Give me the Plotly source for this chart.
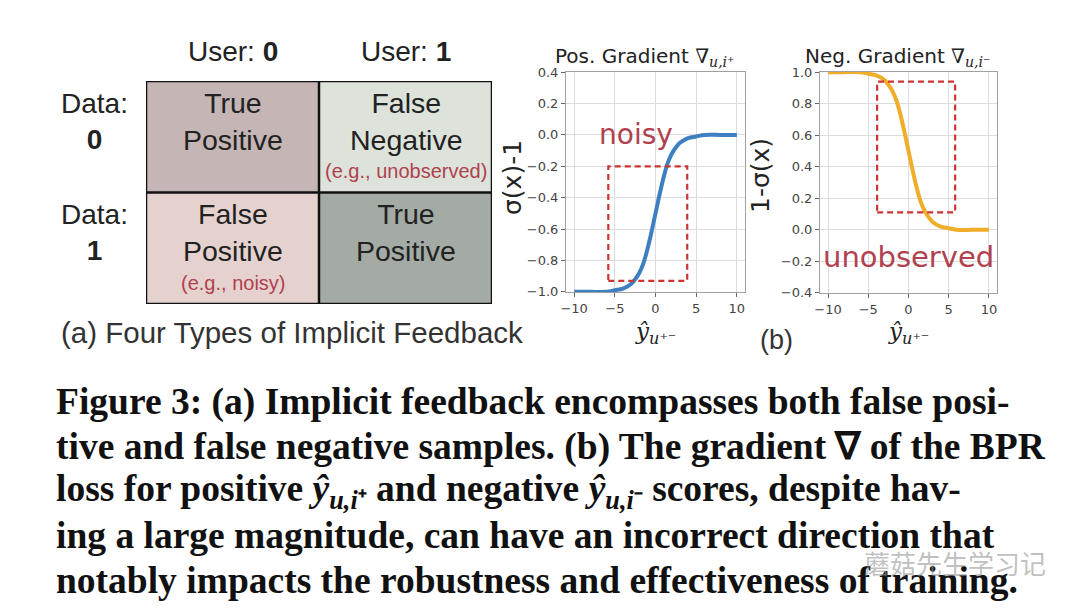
import plotly.graph_objects as go

# page body keeps its default 8px margin, so the figure is sized to fit the 1080x611 window
OFF = 8
W, H = 1080 - 2 * OFF, 611 - 2 * OFF

# ---------------- data ----------------
# (a) confusion-style table
row_labels = ["0", "1"]          # Data
col_labels = ["0", "1"]          # User
cell_main = [["True<br>Positive", "False<br>Negative"],
             ["False<br>Positive", "True<br>Positive"]]
cell_sub = [["", "(e.g., unobserved)"],
            ["(e.g., noisy)", ""]]
cell_colors = ["#c5b5b5", "#dde3db", "#e5d2cf", "#a4aba5"]

# (b) gradient curves
x_vals = [-10, -8, -6, -5, -4, -3, -2.5, -2, -1.5, -1, -0.5, 0, 0.5, 1, 1.5, 2, 2.5, 3, 4, 5, 6, 8, 10]
pos_grad = [-1.0, -1.0, -1.0, -0.99, -0.98, -0.95, -0.92, -0.88, -0.82, -0.73, -0.62, -0.5,
            -0.38, -0.27, -0.18, -0.12, -0.08, -0.05, -0.02, -0.01, 0.0, 0.0, 0.0]
neg_grad = [1.0, 1.0, 1.0, 0.99, 0.98, 0.95, 0.92, 0.88, 0.82, 0.73, 0.62, 0.5,
            0.38, 0.27, 0.18, 0.12, 0.08, 0.05, 0.02, 0.01, 0.0, 0.0, 0.0]
pos_box = [-5.8, 3.9, -0.93, -0.2]   # x0, x1, y0, y1
neg_box = [-3.9, 5.8, 0.11, 0.94]
x_ticks = [-10, -5, 0, 5, 10]
pos_yticks = [-1.0, -0.8, -0.6, -0.4, -0.2, 0.0, 0.2, 0.4]
neg_yticks = [-0.4, -0.2, 0.0, 0.2, 0.4, 0.6, 0.8, 1.0]

caption_lines = [
    "Figure 3: (a) Implicit feedback encompasses both false posi-",
    "tive and false negative samples. (b) The gradient ∇ of the BPR",
    "loss for positive <i>ŷ</i><sub><i>u,i</i>⁺</sub> and negative <i>ŷ</i><sub><i>u,i</i>⁻</sub> scores, despite hav-",
    "ing a large magnitude, can have an incorrect direction that",
    "notably impacts the robustness and effectiveness of training.",
]

# ---------------- helpers ----------------
def px(x):
    return (x - OFF) / W

def py(y):
    return 1 - (y - OFF) / H

RED_TXT = "#b0414f"
SANS = "Liberation Sans, Arial, sans-serif"
MPL = "DejaVu Sans, sans-serif"
SERIF = "DejaVu Serif, serif"

ann = []

def text(x, y, t, size, family=SANS, color="#222", xref="paper", yref="paper", xanchor="center",
         yanchor="middle", angle=0):
    ann.append(dict(xref=xref, yref=yref, x=x, y=y, text=t, showarrow=False, xanchor=xanchor,
                    yanchor=yanchor, textangle=angle, font=dict(family=family, size=size, color=color)))

fig = go.Figure()

# table as heatmap
n = len(cell_colors)
cs = []
for k, c in enumerate(cell_colors):
    cs.append([k / n, c])
    cs.append([(k + 1) / n, c])
fig.add_trace(go.Heatmap(
    z=[[0, 1], [2, 3]], x=[0, 1], y=[0, 1], zmin=-0.5, zmax=3.5,
    colorscale=cs, showscale=False, hoverinfo="skip",
    xaxis="x3", yaxis="y3"))

# curves
fig.add_trace(go.Scatter(x=x_vals, y=pos_grad, mode="lines", line=dict(color="#3d7fc0", width=4, shape="spline"),
                         xaxis="x", yaxis="y", hoverinfo="skip", showlegend=False))
fig.add_trace(go.Scatter(x=x_vals, y=neg_grad, mode="lines", line=dict(color="#f0ad2a", width=4, shape="spline"),
                         xaxis="x2", yaxis="y2", hoverinfo="skip", showlegend=False))

shapes = []
# table borders
shapes.append(dict(type="rect", xref="x3", yref="y3", x0=-0.5, x1=1.5, y0=-0.5, y1=1.5,
                   line=dict(color="#111", width=2.5)))
shapes.append(dict(type="line", xref="x3", yref="y3", x0=0.5, x1=0.5, y0=-0.5, y1=1.5,
                   line=dict(color="#111", width=2.5)))
shapes.append(dict(type="line", xref="x3", yref="y3", x0=-0.5, x1=1.5, y0=0.5, y1=0.5,
                   line=dict(color="#111", width=2.5)))
# red dashed boxes
for b, xr, yr in [(pos_box, "x", "y"), (neg_box, "x2", "y2")]:
    shapes.append(dict(type="rect", xref=xr, yref=yr, x0=b[0], x1=b[1], y0=b[2], y1=b[3],
                       line=dict(color="#cc3333", width=2.2, dash="6px,4px")))

# cell texts
for r in range(2):
    for c in range(2):
        text(c, r - 0.14, cell_main[r][c], 28.5, xref="x3", yref="y3")
        if cell_sub[r][c]:
            text(c, r + 0.31, cell_sub[r][c], 20, color=RED_TXT, xref="x3", yref="y3")
# headers
for c, lab in enumerate(col_labels):
    text(c, py(52), "User: <b>" + lab + "</b>", 28, xref="x3")
for r, lab in enumerate(row_labels):
    text(px(94), r - 0.14, "Data:<br><b>" + lab + "</b>", 28, yref="y3")
text(px(292), py(333), "(a) Four Types of Implicit Feedback", 29.5, color="#333")

# subplot titles
text(px(553), py(57), "Pos. Gradient <span style='font-family:DejaVu Serif'>∇<sub><i>u,i</i>⁺</sub></span>",
     20, family=MPL, xanchor="left")
text(px(803), py(57), "Neg. Gradient <span style='font-family:DejaVu Serif'>∇<sub><i>u,i</i>⁻</sub></span>",
     20, family=MPL, xanchor="left")
# axis titles
text(px(512), py(178), "σ(x)-1", 25, family=MPL, angle=-90)
text(px(760), py(176), "1-σ(x)", 25, family=MPL, angle=-90)
for xc in (655, 908):
    text(px(xc), py(333), "<i>ŷ</i><sub><i>u</i>⁺⁻</sub>", 23, family=SERIF)
text(px(776), py(340), "(b)", 27, color="#333")
# in-plot labels
text(-2.4, 0.0, "noisy", 28, family=MPL, color=RED_TXT, xref="x", yref="y")
text(0.05, -0.17, "unobserved", 29, family=MPL, color=RED_TXT, xref="x2", yref="y2")

# caption
for i, line in enumerate(caption_lines):
    text(px(54), py(402 + i * 44.5), "<b>" + line + "</b>", 37.5, family="Liberation Serif, serif",
         color="#111", xanchor="left")
# watermark
text(px(955), py(562), "蘑菇先生学习记", 26, family="Noto Sans CJK SC", color="rgba(150,150,150,0.6)")

axis_common = dict(showgrid=True, gridcolor="#dcdcdc", gridwidth=1, zeroline=False,
                   showline=True, linecolor="#a0a0a0", linewidth=1, mirror=True,
                   ticks="outside", ticklen=4, tickcolor="#666", automargin=False,
                   tickfont=dict(family=MPL, size=13, color="#444"))

fig.update_layout(
    width=W, height=H, margin=dict(l=0, r=0, t=0, b=0, pad=0, autoexpand=False),
    paper_bgcolor="white", plot_bgcolor="white", showlegend=False,
    xaxis=dict(domain=[px(566), px(745)], range=[-11, 11], tickvals=x_ticks, anchor="y", **axis_common),
    yaxis=dict(domain=[py(292), py(72)], range=[-1.001, 0.401], tickvals=pos_yticks, tickformat=".1f",
               anchor="x", **axis_common),
    xaxis2=dict(domain=[px(820), px(997)], range=[-11, 11], tickvals=x_ticks, anchor="y2", **axis_common),
    yaxis2=dict(domain=[py(293), py(72)], range=[-0.401, 1.001], tickvals=neg_yticks, tickformat=".1f",
                anchor="x2", **axis_common),
    xaxis3=dict(domain=[px(146), px(492)], range=[-0.5, 1.5], visible=False, anchor="y3", automargin=False),
    yaxis3=dict(domain=[py(304), py(81)], range=[1.5, -0.5], visible=False, anchor="x3", automargin=False),
    shapes=shapes, annotations=ann,
)

fig.write_html("out.html")
